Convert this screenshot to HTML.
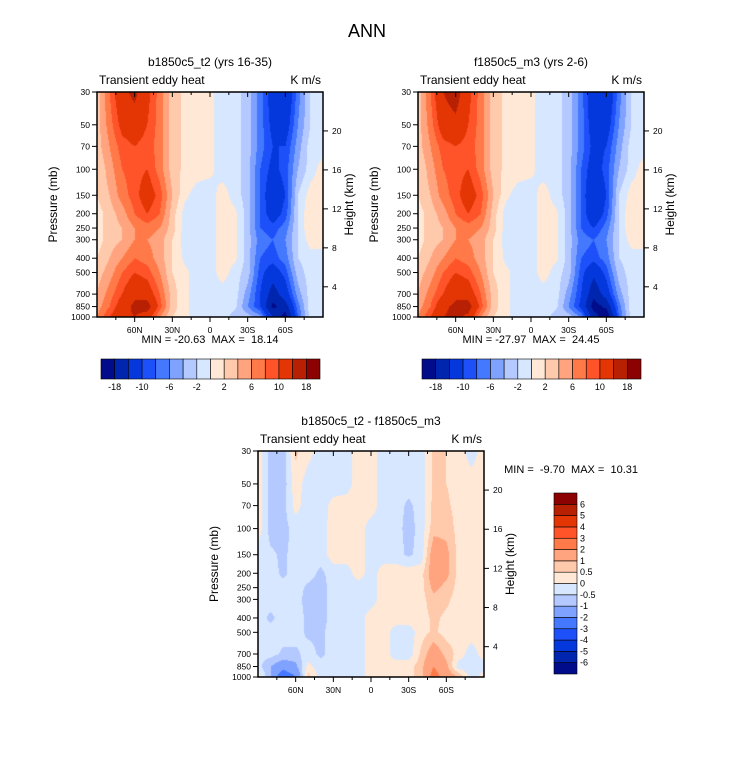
<!DOCTYPE html>
<html><head><meta charset="utf-8">
<style>
body{margin:0;background:#fff;}
#wrap{position:relative;width:733px;height:772px;overflow:hidden;font-family:"Liberation Sans",sans-serif;}
canvas{position:absolute;}
svg{position:absolute;left:0;top:0;}
svg text{white-space:pre;}
</style></head>
<body>
<div id="wrap">
<canvas id="c1" width="226" height="225" style="left:97px;top:92px"></canvas>
<canvas id="c2" width="226" height="225" style="left:418px;top:92px"></canvas>
<canvas id="c3" width="226" height="226" style="left:258px;top:451px"></canvas>
<svg id="ov" width="733" height="772"></svg>
</div>
<script>
const lats = [90,80,70,60,50,40,30,20,10,0,-10,-20,-30,-40,-50,-60,-70,-80,-90];
const levels = [30,50,70,100,150,200,250,300,400,500,700,850,1000];
const fieldB = [
[3,3,3,2,2,1,1,1,2,3,4,5,6],
[8,7,6,5,4,3,3,3,4,5,7,8,10],
[13,11,9,8,7,5,4,4,6,8,10,12,13],
[15,12,10,9,9,8,6,6,8,10,13,15,14],
[11,10,9,10,12,10,7,6,7,9,12,16,12],
[7,7,7,7,9,8,6,5,5,6,8,9,6],
[3,3,3,3,4,3,3,2,2,2,3,3,2],
[1.5,1.5,1.5,1.5,0.5,-1,-1,-1,-0.5,0.5,0.5,0.5,0.5],
[1.5,1.5,1.5,1,-1,-1,-1,-1,-1,-1,-1,-1,-1],
[0.5,0.5,0.5,0.5,-1,-1,-1,-1,-1,-1,-1,-1,-1],
[-1,-1,-1,-1,1,1,1,1,1,1,-1,-1,-1],
[-1,-1,-1,-1,-1,0.5,0.5,0.5,0.5,-1,-1,-1.5,-3],
[-3,-3,-3,-3,-3,-3,-3,-3,-3,-3,-5,-6,-3],
[-7,-7,-7,-8,-8,-8,-8,-7,-8,-9,-10,-10,-5],
[-12,-11,-10,-11,-13,-12,-9,-8,-9,-12,-16,-19,-14],
[-14,-12,-10,-9,-10,-9,-7,-6,-7,-9,-12,-16,-20],
[-7,-6,-5,-4,-2,-2,-2,-2,-2,-3,-5,-7,-8],
[-2,-2,-1,-1,1,2,2,1,-1,-1,-1,-1,-1],
[-1,-1,-1,1,1,1,1,1,-1,-1,-1,-1,-1]];
const fieldF = [
[3,3,3,2,2,1,1,1,2,3,4,5,6],
[8,7,6,5,4,3,3,3,4,5,7,8,10],
[14,12,9,8,7,5,4,4,6,8,10,13,14],
[16,13,10,9,9,8,6,6,8,10,13,15,15],
[11,10,9,10,12,10,7,6,7,9,12,16,13],
[7,7,7,7,9,8,6,5,5,6,8,9,6],
[3,3,3,3,4,3,3,2,2,2,3,3,2],
[1.5,1.5,1.5,1.5,0.5,-1,-1,-1,-0.5,0.5,0.5,0.5,0.5],
[1.5,1.5,1.5,1,-1,-1,-1,-1,-1,-1,-1,-1,-1],
[0.5,0.5,0.5,0.5,-1,-1,-1,-1,-1,-1,-1,-1,-1],
[-1,-1,-1,-1,1,1,1,1,1,1,-1,-1,-1],
[-1,-1,-1,-1,-1,0.5,0.5,0.5,0.5,-1,-1,-1.5,-3],
[-3,-3,-3,-3,-3,-3,-3,-3,-3,-3,-5,-6,-3],
[-7,-7,-7,-8,-8,-8,-8,-7,-8,-9,-10,-11,-6],
[-13,-12,-11,-12,-14,-13,-10,-8,-9,-13,-17,-20,-16],
[-14,-12,-10,-9,-10,-9,-7,-6,-7,-9,-12,-17,-22],
[-7,-6,-5,-4,-2,-2,-2,-2,-2,-3,-5,-7,-8],
[-2,-2,-1,-1,1,2,2,1,-1,-1,-1,-1,-1],
[-1,-1,-1,1,1,1,1,1,-1,-1,-1,-1,-1]];
const fieldD = [
[0.3,0.3,0.3,0.3,-0.3,-0.3,-0.3,-0.3,-0.3,-0.3,-0.3,-0.3,0.3],
[-0.7,-0.7,-0.7,-0.7,-0.4,-0.3,-0.3,-0.3,-0.6,-0.3,-0.3,-1,-1],
[-0.8,-0.8,-0.7,-0.7,-0.6,-0.6,-0.3,-0.3,-0.3,-0.3,-0.6,-1.5,-3],
[0.6,0.3,0.2,-0.3,-0.3,-0.3,-0.3,-0.3,-0.3,-0.3,-0.6,-1.2,-2],
[0.2,-0.3,-0.3,-0.3,-0.3,-0.3,-0.6,-0.7,-0.6,-0.6,-0.3,0.2,0.7],
[-0.3,-0.3,-0.3,-0.3,-0.3,-0.6,-0.7,-0.7,-0.7,-0.6,-0.6,-0.3,-0.3],
[-0.3,-0.3,0.2,0.3,0.3,-0.3,-0.3,-0.3,-0.3,-0.3,-0.3,-0.3,-0.3],
[-0.3,-0.3,0.3,0.3,0.3,-0.3,-0.3,-0.3,-0.3,-0.3,-0.3,-0.3,-0.3],
[0.3,0.3,0.3,0.3,0.3,0.3,-0.3,-0.3,-0.3,-0.3,-0.3,-0.3,-0.3],
[0.3,0.3,0.3,-0.3,-0.3,-0.3,-0.3,-0.3,0.3,0.3,0.3,0.3,0.3],
[-0.3,-0.3,-0.3,-0.3,-0.3,0.3,0.3,0.3,0.3,0.3,0.3,0.3,0.3],
[-0.3,-0.3,-0.3,-0.3,-0.3,0.3,0.3,0.3,0.3,-0.3,-0.3,0.3,0.3],
[-0.3,-0.3,-0.6,-0.7,-0.6,0.3,0.3,0.3,0.3,-0.3,-0.3,0.3,0.3],
[-0.3,-0.3,-0.3,-0.3,-0.3,0.3,0.3,0.3,0.3,0.3,0.6,0.8,0.8],
[0.6,0.6,0.7,0.8,1.5,1.5,1.2,0.8,0.6,0.6,1.5,2,2.5],
[0.5,0.5,0.6,0.8,1.2,1.2,0.8,0.6,0.4,0.3,0.8,1.2,1.5],
[0.3,0.3,0.3,0.3,0.3,0.3,0.3,0.3,0.3,0.3,0.3,-0.3,1],
[-0.3,0.3,0.3,0.3,0.3,0.3,0.3,0.3,0.3,0.3,-0.3,-0.3,-0.3],
[0.3,0.3,0.3,0.3,0.3,0.3,0.3,0.3,0.3,0.3,0.3,-0.3,0.3]];
const bndTop = [-18,-14,-10,-8,-6,-4,-2,0,2,4,6,8,10,14,18];
const bndTopLabels = ["-18","-10","-6","-2","2","6","10","18"];
const bndDiff = [-6,-5,-4,-3,-2,-1,-0.5,0,0.5,1,2,3,4,5,6];
const bndDiffLabels = ["-6","-5","-4","-3","-2","-1","-0.5","0","0.5","1","2","3","4","5","6"];
const palette = ["#000c8a","#0026b0","#0538dc","#1e50fa","#4478ff","#80a2ff","#b4c9ff","#d7e7ff","#ffe8d6","#ffc9ab","#ffa47e","#ff7a48","#ff532a","#e43604","#b82004","#8c0202"];
const pTicks = [30,50,70,100,150,200,250,300,400,500,700,850,1000];
const latTicks = [60,30,0,-30,-60];
const latTickLabels = ["60N","30N","0","30S","60S"];
const hTicks = [20,16,12,8,4];

function hexRgb(h){return [parseInt(h.substr(1,2),16),parseInt(h.substr(3,2),16),parseInt(h.substr(5,2),16)];}
const palRgb = palette.map(hexRgb);
function yOfP(p,y0,h){return y0+h*Math.log(p/30)/Math.log(1000/30);}
function xOfLat(lat,x0,w){return x0+w*(90-lat)/180;}
function yOfZ(z,y0,h){return y0+h*(0.173+(20-z)*0.0433);}
function sample(field,lat,p){
  let fi=(90-lat)/10; fi=Math.max(0,Math.min(17.9999,fi));
  const i=Math.floor(fi), ti=fi-i;
  const lp=Math.log(p); let j=0;
  while(j<levels.length-2 && Math.log(levels[j+1])<lp) j++;
  let tj=(lp-Math.log(levels[j]))/(Math.log(levels[j+1])-Math.log(levels[j]));
  tj=Math.max(0,Math.min(1,tj));
  const a=field[i][j]*(1-ti)+field[i+1][j]*ti;
  const b=field[i][j+1]*(1-ti)+field[i+1][j+1]*ti;
  return a*(1-tj)+b*tj;
}
function bin(v,bnd){let k=0;while(k<bnd.length&&v>=bnd[k])k++;return k;}
function fill(id,field,bnd){
  const c=document.getElementById(id),ctx=c.getContext('2d');
  const W=c.width,H=c.height,img=ctx.createImageData(W,H);
  for(let y=0;y<H;y++){
    const p=30*Math.pow(1000/30,(y+0.5)/H);
    for(let x=0;x<W;x++){
      const lat=90-180*(x+0.5)/W;
      const col=palRgb[bin(sample(field,lat,p),bnd)];
      const o=(y*W+x)*4;img.data[o]=col[0];img.data[o+1]=col[1];img.data[o+2]=col[2];img.data[o+3]=255;
    }
  }
  ctx.putImageData(img,0,0);
}
fill('c1',fieldB,bndTop);fill('c2',fieldF,bndTop);fill('c3',fieldD,bndDiff);

const NS='http://www.w3.org/2000/svg',ov=document.getElementById('ov');
function el(tag,attrs,txt){const e=document.createElementNS(NS,tag);for(const k in attrs)e.setAttribute(k,attrs[k]);if(txt!==undefined)e.textContent=txt;ov.appendChild(e);return e;}
function txt(x,y,s,size,anchor,name){const t=el('text',{x:x,y:y,'font-size':size,'text-anchor':anchor||'middle',fill:'#000'},s);
  
  
  return t;}

txt(367,37,"ANN",18,'middle','main-title');

function panel(x0,y0,w,h,title,tag){
  txt(x0+w/2,y0-26,title,12,'middle',tag+'-title');
  txt(x0+2,y0-8,"Transient eddy heat",12,'start',tag+'-variable-label');
  txt(x0+w-2,y0-8,"K m/s",12,'end',tag+'-units-label');
  const fr=el('rect',{x:x0,y:y0,width:w,height:h,fill:'none',stroke:'#000','stroke-width':1.5});
  
  
  pTicks.forEach(p=>{const y=yOfP(p,y0,h);
    el('line',{x1:x0-5,y1:y,x2:x0,y2:y,stroke:'#000'});
    txt(x0-7,y+3,String(p),8.5,'end',tag+'-y-tick-label');});
  for(let lat=75;lat>=-75;lat-=15){const x=xOfLat(lat,x0,w);const maj=lat%30===0;
    el('line',{x1:x,y1:y0+h,x2:x,y2:y0+h+(maj?5:3),stroke:'#000'});
    el('line',{x1:x,y1:y0,x2:x,y2:y0+(maj?5:3),stroke:'#000'});}
  latTicks.forEach((lat,i)=>{txt(xOfLat(lat,x0,w),y0+h+16,latTickLabels[i],8.5,'middle',tag+'-x-tick-label');});
  hTicks.forEach(z=>{const y=yOfZ(z,y0,h);
    el('line',{x1:x0+w,y1:y,x2:x0+w+5,y2:y,stroke:'#000'});
    txt(x0+w+9,y+3,String(z),8.5,'start',tag+'-height-tick-label');});
  const yl=txt(0,0,"Pressure (mb)",12,'middle',tag+'-y-axis-title');
  yl.setAttribute('transform','translate('+(x0-40)+','+(y0+h/2)+') rotate(-90)');
  const hl=txt(0,0,"Height (km)",12,'middle',tag+'-height-axis-title');
  hl.setAttribute('transform','translate('+(x0+w+30)+','+(y0+h/2)+') rotate(-90)');
}
panel(97,92,226,225,"b1850c5_t2 (yrs 16-35)","left-panel");
panel(418,92,226,225,"f1850c5_m3 (yrs 2-6)","right-panel");
panel(258,451,226,226,"b1850c5_t2 - f1850c5_m3","diff-panel");
txt(210,343,"MIN = -20.63  MAX =  18.14",11,'middle','left-min-max');
txt(531,343,"MIN = -27.97  MAX =  24.45",11,'middle','right-min-max');
txt(638,473,"MIN =  -9.70  MAX =  10.31",11,'end','diff-min-max');

function hbar(x0,y0,w,h,tag){
  const n=palette.length,bw=w/n;
  palette.forEach((c,i)=>{const r=el('rect',{x:x0+i*bw,y:y0,width:bw,height:h,fill:c,stroke:'#000','stroke-width':0.6});
    
    });
  bndTopLabels.forEach((s,i)=>{txt(x0+(2*i+1)*bw,y0+h+11,s,9,'middle',tag+'-label');});
}
hbar(101,359,219,20,'left-colorbar');
hbar(422,359,219,20,'right-colorbar');
(function(){const x0=554,y0=493,w=23,h=181,n=palette.length,bh=h/n;
  palette.forEach((c,i)=>{const r=el('rect',{x:x0,y:y0+(n-1-i)*bh,width:w,height:bh,fill:c,stroke:'#000','stroke-width':0.6});
    
    });
  bndDiffLabels.forEach((s,i)=>{txt(x0+w+3,y0+(n-1-i)*bh+3,s,9,'start','diff-colorbar-label');});
})();
</script>
</body></html>
